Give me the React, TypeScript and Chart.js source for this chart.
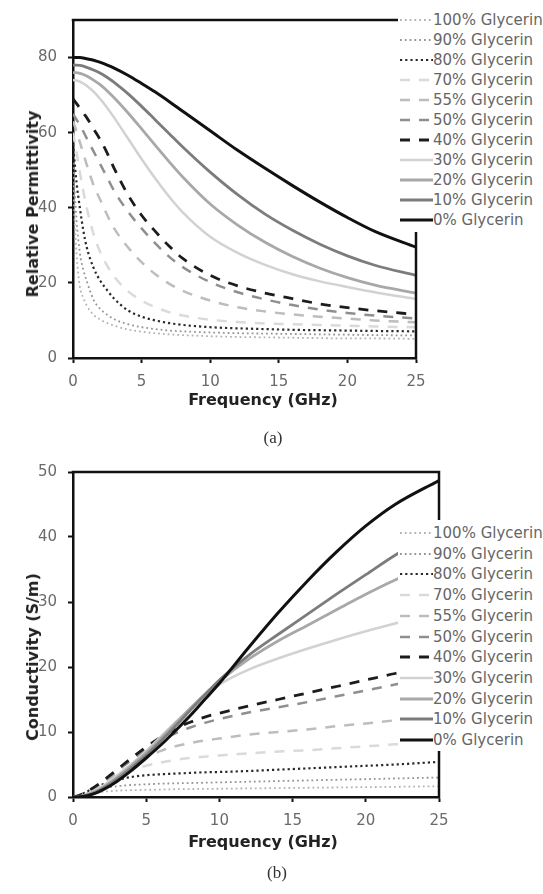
import { useEffect, useRef } from 'react';
import { Chart, registerables } from 'chart.js';

Chart.register(...registerables);

// ---------- DATA ----------
const seriesLabels = [
  '100% Glycerin', '90% Glycerin', '80% Glycerin', '70% Glycerin', '55% Glycerin',
  '50% Glycerin', '40% Glycerin', '30% Glycerin', '20% Glycerin', '10% Glycerin', '0% Glycerin',
];

const xTicksGHz = [0, 5, 10, 15, 20, 25];
const permTicks = [0, 20, 40, 60, 80];
const condTicks = [0, 10, 20, 30, 40, 50];

// (a) Relative permittivity
const freqA = [0, 0.25, 0.5, 0.75, 1, 1.5, 2, 2.5, 3, 4, 5, 6, 7, 8, 10, 12, 14, 16, 18, 20, 22, 25];
const permG100 = [46, 28, 19, 16, 14, 11.5, 10.2, 9.3, 8.6, 7.6, 7, 6.6, 6.3, 6.1, 5.8, 5.6, 5.5, 5.4, 5.3, 5.2, 5.2, 5.1];
const permG90 = [52, 37, 28, 23.5, 20.5, 15.5, 13, 11.5, 10.3, 9, 8.2, 7.7, 7.3, 7.1, 6.8, 6.6, 6.5, 6.4, 6.3, 6.2, 6.1, 6];
const permG80 = [57, 47, 40, 34, 29.5, 24, 20.5, 18, 15.8, 12.7, 11, 10, 9.3, 8.8, 8.2, 7.9, 7.7, 7.5, 7.4, 7.3, 7.2, 7.1];
const permG70 = [60, 55, 49.5, 44.5, 40, 33, 28, 24.5, 21.7, 17.8, 15.3, 13.5, 12.2, 11.3, 10.2, 9.6, 9.2, 9, 8.8, 8.6, 8.4, 8.2];
const permG55 = [63, 60.5, 57.5, 54.5, 51.5, 46, 42, 38, 34.5, 29.5, 25.5, 22.3, 19.8, 17.9, 15.3, 13.5, 12.4, 11.6, 11, 10.5, 10, 9.5];
const permG50 = [65, 63.5, 62, 60.3, 58.5, 55, 51.5, 48, 44.5, 39, 34.5, 30.5, 27, 24.2, 20.2, 17.5, 15.6, 14.1, 12.9, 12, 11.3, 10.5];
const permG40 = [69, 67.8, 66.5, 65.2, 64, 61, 58, 54.5, 50.5, 43.5, 38, 33.7, 29.8, 26.5, 22, 19.2, 17.3, 15.8, 14.4, 13.4, 12.6, 11.6];
const permG30 = [74, 73.9, 73.6, 73.1, 72.5, 70.9, 68.9, 66.6, 64, 58.5, 53, 47.8, 43, 38.8, 32.3, 28, 24.8, 22.3, 20.4, 18.9, 17.5, 15.7];
const permG20 = [76, 76, 75.8, 75.5, 75.1, 74, 72.7, 71.1, 69.3, 65.3, 61, 56.6, 52.3, 48.2, 41, 35.4, 30.8, 27, 23.9, 21.4, 19.4, 17.3];
const permG10 = [78, 78, 77.9, 77.7, 77.4, 76.7, 75.8, 74.7, 73.4, 70.4, 67, 63.4, 59.8, 56.2, 49.5, 43.5, 38.3, 34, 30.3, 27.2, 24.7, 22];
const permG0 = [80, 80, 80, 79.9, 79.7, 79.3, 78.7, 78, 77.2, 75.3, 73.1, 70.8, 68.3, 65.7, 60.5, 55.3, 50.5, 45.9, 41.5, 37.4, 33.7, 29.5];

// (b) Conductivity (S/m)
const freqB = [0, 0.5, 1, 1.5, 2, 3, 4, 5, 6, 7, 8, 9, 10, 12, 14, 16, 18, 20, 22, 25];
const condG100 = [0, 0.2, 0.45, 0.65, 0.8, 0.97, 1.05, 1.1, 1.15, 1.2, 1.22, 1.25, 1.27, 1.32, 1.37, 1.42, 1.47, 1.52, 1.57, 1.65];
const condG90 = [0, 0.3, 0.7, 1.05, 1.3, 1.65, 1.85, 1.95, 2.05, 2.1, 2.15, 2.2, 2.25, 2.35, 2.45, 2.55, 2.65, 2.75, 2.85, 3];
const condG80 = [0, 0.35, 0.9, 1.4, 1.9, 2.6, 3.1, 3.35, 3.5, 3.6, 3.7, 3.8, 3.85, 4, 4.2, 4.4, 4.6, 4.8, 5, 5.4];
const condG70 = [0, 0.3, 0.75, 1.3, 1.9, 3.1, 4, 4.8, 5.3, 5.7, 6, 6.2, 6.4, 6.7, 7, 7.2, 7.5, 7.8, 8.1, 8.5];
const condG55 = [0, 0.3, 0.8, 1.4, 2.1, 3.5, 4.9, 6.1, 7.1, 7.8, 8.3, 8.7, 9, 9.6, 10, 10.4, 10.9, 11.3, 11.8, 12.4];
const condG50 = [0, 0.3, 0.85, 1.5, 2.3, 4, 5.7, 7.3, 8.7, 9.8, 10.7, 11.4, 12, 13, 13.8, 14.6, 15.5, 16.4, 17.3, 18.6];
const condG40 = [0, 0.3, 0.9, 1.6, 2.4, 4.2, 6, 7.7, 9.2, 10.5, 11.5, 12.3, 12.9, 14, 15, 16, 17, 18, 19, 20.2];
const condG30 = [0, 0.12, 0.5, 1, 1.65, 3.3, 5.1, 7.1, 9.3, 11.5, 13.6, 15.6, 17.3, 19.6, 21.3, 22.8, 24.2, 25.5, 26.7, 28.4];
const condG20 = [0, 0.1, 0.4, 0.85, 1.45, 3, 4.85, 6.8, 9, 11.3, 13.6, 15.8, 17.8, 21.2, 24, 26.4, 28.8, 31.2, 33.4, 36.3];
const condG10 = [0, 0.08, 0.3, 0.7, 1.25, 2.7, 4.5, 6.4, 8.6, 10.9, 13.3, 15.7, 18, 21.8, 25, 28.1, 31.2, 34.2, 37.2, 41];
const condG0 = [0, 0.05, 0.2, 0.55, 1.05, 2.4, 4.1, 6, 8, 10.2, 12.5, 15, 17.5, 23, 28.3, 33.2, 37.7, 41.7, 45, 48.7];

const permSeries = [permG100, permG90, permG80, permG70, permG55, permG50, permG40, permG30, permG20, permG10, permG0];
const condSeries = [condG100, condG90, condG80, condG70, condG55, condG50, condG40, condG30, condG20, condG10, condG0];

// ---------- STYLES ----------
type LineStyle = { color: string; width: number; dash: number[] };
const lineStyles: LineStyle[] = [
  { color: '#b3b3b3', width: 1.8, dash: [1.8, 3] },
  { color: '#959595', width: 1.8, dash: [1.8, 3] },
  { color: '#2a2a2a', width: 2.2, dash: [2.2, 3] },
  { color: '#dadada', width: 2.5, dash: [10, 9] },
  { color: '#bdbdbd', width: 2.5, dash: [10, 9] },
  { color: '#8f8f8f', width: 2.5, dash: [10, 9] },
  { color: '#1c1c1c', width: 2.8, dash: [10, 9] },
  { color: '#d2d2d2', width: 2.5, dash: [] },
  { color: '#a8a8a8', width: 2.8, dash: [] },
  { color: '#7c7c7c', width: 2.8, dash: [] },
  { color: '#111111', width: 3, dash: [] },
];

const FONT = '"DejaVu Sans", Verdana, sans-serif';
const TICK_COLOR = '#6a6a6a';

const boxPlugin = {
  id: 'topRightBox',
  afterDatasetsDraw(chart: any) {
    const { ctx, chartArea } = chart;
    const { left, right, top, bottom } = chartArea;
    ctx.save();
    ctx.strokeStyle = '#111';
    ctx.lineWidth = 2.5;
    ctx.beginPath();
    ctx.moveTo(left - 1.25, top);
    ctx.lineTo(right, top);
    ctx.lineTo(right, bottom + 1.25);
    ctx.stroke();
    ctx.restore();
  },
};

type PanelProps = {
  top: number;
  height: number;
  padTop: number;
  padRight: number;
  xAxisHeight: number;
  freq: number[];
  series: number[][];
  yMax: number;
  yTicks: number[];
};

function ChartCanvas(p: PanelProps) {
  const ref = useRef<HTMLCanvasElement | null>(null);
  useEffect(() => {
    if (!ref.current) return;
    const order = seriesLabels.map((_, i) => i).reverse(); // 0% drawn on top
    const datasets = order.map((i) => ({
      label: seriesLabels[i],
      data: p.freq.map((f, j) => ({ x: f, y: p.series[i][j] })),
      borderColor: lineStyles[i].color,
      borderWidth: lineStyles[i].width,
      borderDash: lineStyles[i].dash,
      borderCapStyle: 'butt' as const,
      pointRadius: 0,
      fill: false,
      cubicInterpolationMode: 'monotone' as const,
    }));
    const yStep = p.yTicks[1] - p.yTicks[0];
    const yTickMax = p.yTicks[p.yTicks.length - 1];
    const chart = new Chart(ref.current, {
      type: 'line',
      data: { datasets },
      plugins: [boxPlugin],
      options: {
        animation: false,
        responsive: false,
        devicePixelRatio: 1,
        layout: { padding: { top: p.padTop, right: p.padRight, left: 0, bottom: 0 } },
        plugins: { legend: { display: false }, tooltip: { enabled: false } },
        scales: {
          x: {
            type: 'linear',
            min: xTicksGHz[0],
            max: xTicksGHz[xTicksGHz.length - 1],
            ticks: {
              stepSize: xTicksGHz[1] - xTicksGHz[0],
              color: TICK_COLOR,
              font: { family: FONT, size: 15 },
              padding: 10,
              maxRotation: 0,
            },
            grid: {
              display: true,
              drawOnChartArea: false,
              drawTicks: true,
              tickLength: 5,
              tickWidth: 2,
              tickColor: '#111',
            },
            border: { display: true, color: '#111', width: 2.5 },
            afterFit: (scale: any) => {
              scale.height = p.xAxisHeight;
            },
          },
          y: {
            type: 'linear',
            min: 0,
            max: p.yMax,
            ticks: {
              stepSize: yStep,
              color: TICK_COLOR,
              font: { family: FONT, size: 15 },
              padding: 11,
            },
            afterBuildTicks: (scale: any) => {
              scale.ticks = scale.ticks.filter((t: any) => t.value <= yTickMax);
            },
            grid: {
              display: true,
              drawOnChartArea: false,
              drawTicks: true,
              tickLength: 5,
              tickWidth: 2,
              tickColor: '#111',
            },
            border: { display: true, color: '#111', width: 2.5 },
            afterFit: (scale: any) => {
              scale.width = 73;
            },
          },
        },
      },
    });
    return () => chart.destroy();
  }, []);
  return (
    <canvas
      ref={ref}
      width={543}
      height={p.height}
      style={{ position: 'absolute', left: 0, top: p.top, width: 543, height: p.height }}
    />
  );
}

function Legend({ top, height, rowTop, rowGap }: { top: number; height: number; rowTop: number; rowGap: number }) {
  return (
    <div
      style={{
        position: 'absolute',
        left: 398,
        top,
        width: 145,
        height,
        background: '#fff',
        overflow: 'hidden',
      }}
    >
      {seriesLabels.map((lab, i) => {
        const s = lineStyles[i];
        return (
          <div
            key={lab}
            style={{
              position: 'absolute',
              left: 0,
              top: rowTop + i * rowGap - 10,
              height: 20,
              display: 'flex',
              alignItems: 'center',
              whiteSpace: 'nowrap',
            }}
          >
            <svg width={35} height={8} style={{ display: 'block', flex: 'none' }}>
              <line
                x1={2}
                y1={4}
                x2={35}
                y2={4}
                stroke={s.color}
                strokeWidth={s.width}
                strokeDasharray={s.dash.length ? s.dash.join(' ') : undefined}
              />
            </svg>
            <span style={{ font: `15px ${FONT}`, color: '#666', lineHeight: '20px' }}>{lab}</span>
          </div>
        );
      })}
    </div>
  );
}

const titleStyle: any = {
  position: 'absolute',
  font: `bold 16px ${FONT}`,
  color: '#222',
  whiteSpace: 'nowrap',
  lineHeight: '20px',
};

function XTitle({ cx, cy }: { cx: number; cy: number }) {
  return (
    <div style={{ ...titleStyle, left: cx, top: cy, transform: 'translate(-50%, -50%)' }}>Frequency (GHz)</div>
  );
}

function YTitle({ cx, cy, text }: { cx: number; cy: number; text: string }) {
  return (
    <div style={{ ...titleStyle, left: cx, top: cy, transform: 'translate(-50%, -50%) rotate(-90deg)' }}>{text}</div>
  );
}

function Caption({ cx, cy, text }: { cx: number; cy: number; text: string }) {
  return (
    <div
      style={{
        position: 'absolute',
        left: cx,
        top: cy,
        transform: 'translate(-50%, -50%)',
        font: '17px "Liberation Serif", "Times New Roman", serif',
        color: '#333',
        whiteSpace: 'nowrap',
      }}
    >
      {text}
    </div>
  );
}

export default function App() {
  return (
    <div style={{ position: 'absolute', left: 0, top: 0, width: 543, height: 894, background: '#fff', overflow: 'hidden' }}>
      <ChartCanvas
        top={0}
        height={420}
        padTop={9}
        padRight={127}
        xAxisHeight={62}
        freq={freqA}
        series={permSeries}
        yMax={90}
        yTicks={permTicks}
      />
      <Legend top={0} height={232} rowTop={20} rowGap={20} />
      <YTitle cx={33} cy={204} text="Relative Permittivity" />
      <XTitle cx={263} cy={400} />
      <Caption cx={273} cy={438} text="(a)" />

      <ChartCanvas
        top={440}
        height={420}
        padTop={32}
        padRight={104}
        xAxisHeight={63}
        freq={freqB}
        series={condSeries}
        yMax={50}
        yTicks={condTicks}
      />
      <Legend top={520} height={231} rowTop={13} rowGap={20.7} />
      <YTitle cx={33} cy={657} text="Conductivity (S/m)" />
      <XTitle cx={263} cy={842} />
      <Caption cx={277} cy={873} text="(b)" />
    </div>
  );
}
